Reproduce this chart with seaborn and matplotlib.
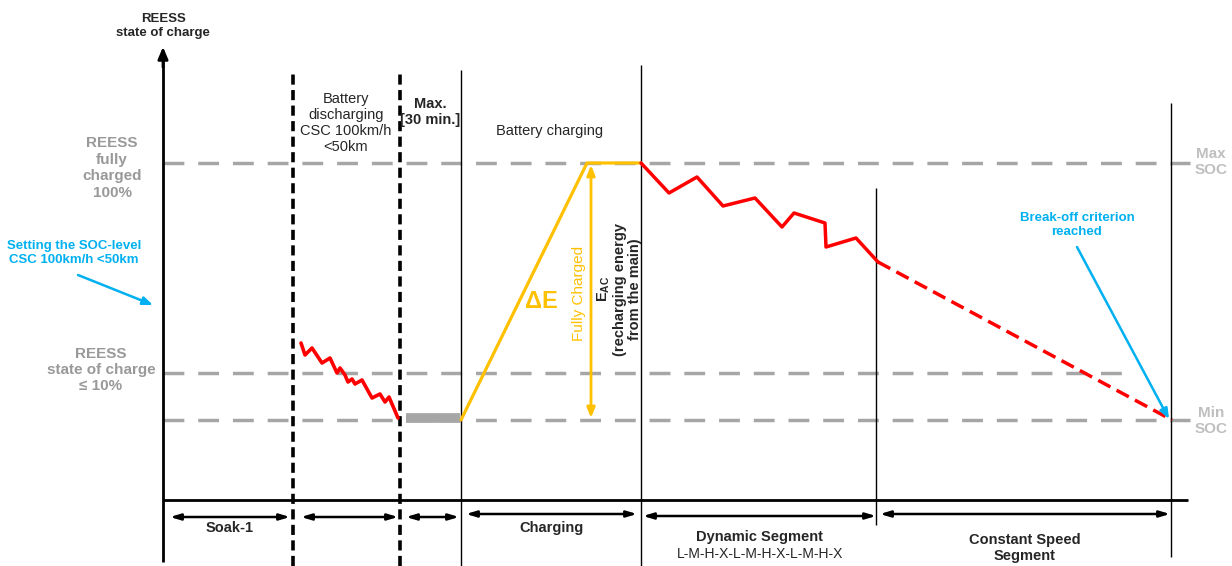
import matplotlib
matplotlib.use("Agg")
import matplotlib.pyplot as plt
import seaborn as sns

# ---------------- data (schematic units: time along x, SOC level along y) ----------------
soc_levels = {"max": 337, "low10": 127, "min": 80}
phase_dashed = [130, 237]                 # soak / discharge boundaries (dashed)
phase_solid = [298, 478, 713, 1008]       # charging start, dynamic start, CSS start, end
phase_solid_top = [430, 435, 312, 397]
phase_solid_bot = [-66, -66, -25, -57]

discharge_t = [138, 142, 149, 159, 167, 174, 177, 182, 185, 189, 192, 199, 209, 217, 222, 226, 235]
discharge_soc = [157, 145, 152, 137, 142, 127, 132, 125, 118, 121, 116, 120, 102, 106, 98, 103, 82]

soak_bar_t = [243, 297]
soak_bar_soc = [82, 82]

charge_t = [298, 424, 478]
charge_soc = [80, 337, 337]

dynamic_t = [478, 506, 534, 560, 592, 619, 631, 662, 663, 693, 715]
dynamic_soc = [337, 307, 323, 294, 302, 273, 287, 277, 253, 262, 238]

css_t = [715, 1009]
css_soc = [238, 80]

segments = [("Soak-1", 7, 127), ("", 138, 235), ("", 243, 296),
            ("Charging", 303, 474), ("Dynamic Segment", 480, 713),
            ("Constant Speed\nSegment", 717, 1007)]
segment_y = [-17, -17, -17, -14, -16, -14]
segment_label_y = [-28, 0, 0, -28, -37, -48]

RED = "#ff0000"
ORANGE = "#ffc000"
BLUE = "#00b0f0"
GRAY = "#a6a6a6"
GRAYTXT = "#999999"
LIGHT = "#bfbfbf"

sns.set_theme(style="white")
plt.rcParams["font.family"] = ["Liberation Sans", "DejaVu Sans"]
plt.rcParams["mathtext.fontset"] = "custom"
plt.rcParams["mathtext.rm"] = "Liberation Sans:bold"
plt.rcParams["mathtext.bf"] = "Liberation Sans:bold"

fig = plt.figure(figsize=(12.32, 5.66), dpi=100)
ax = fig.add_axes([0, 0, 1, 1])
ax.set_xlim(-163, 1069)
ax.set_ylim(-66, 500)
ax.axis("off")

# gray dashed SOC levels
gdash = (0, (6, 4))
ax.hlines(soc_levels["max"], 0, 1027, color=GRAY, lw=2.5, linestyles=gdash)
ax.hlines(soc_levels["low10"], 0, 967, color=GRAY, lw=2.5, linestyles=gdash)
ax.hlines(soc_levels["min"], 0, 1027, color=GRAY, lw=2.5, linestyles=gdash)

# phase boundaries
for x in phase_dashed:
    ax.vlines(x, -66, 430, color="black", lw=2.6, linestyles=(0, (2.8, 1.5)))
for x, t, b in zip(phase_solid, phase_solid_top, phase_solid_bot):
    ax.vlines(x, b, t, color="black", lw=1)

# axes
ax.hlines(0, 0, 1025, color="black", lw=2)
ax.vlines(0, -62, 440, color="black", lw=2)
ax.annotate("", xy=(0, 456), xytext=(0, 430),
            arrowprops=dict(arrowstyle="-|>,head_width=0.25,head_length=0.6", color="black", lw=2))

# curves
sns.lineplot(x=discharge_t, y=discharge_soc, sort=False, color=RED, lw=2.6, ax=ax)
sns.lineplot(x=soak_bar_t, y=soak_bar_soc, sort=False, color=GRAY, lw=7, ax=ax,
             solid_capstyle="butt")
sns.lineplot(x=charge_t, y=charge_soc, sort=False, color=ORANGE, lw=2.3, ax=ax)
sns.lineplot(x=dynamic_t, y=dynamic_soc, sort=False, color=RED, lw=2.5, ax=ax)
ax.plot(css_t, css_soc, color=RED, lw=2.5, ls=(0, (4, 2)))

# orange double arrow
ax.annotate("", xy=(428, 82), xytext=(428, 335),
            arrowprops=dict(arrowstyle="<|-|>,head_width=0.2,head_length=0.5", color=ORANGE, lw=2,
                            shrinkA=0, shrinkB=0))

# blue arrows
ax.annotate("", xy=(-10, 195), xytext=(-85, 225),
            arrowprops=dict(arrowstyle="-|>,head_width=0.2,head_length=0.5", color=BLUE, lw=1.8,
                            shrinkA=0, shrinkB=0))
ax.annotate("", xy=(1006, 81), xytext=(914, 253),
            arrowprops=dict(arrowstyle="-|>,head_width=0.2,head_length=0.5", color=BLUE, lw=1.8,
                            shrinkA=0, shrinkB=0))

# segment arrows
for (lab, a, b), y, ty in zip(segments, segment_y, segment_label_y):
    ax.annotate("", xy=(b, y), xytext=(a, y),
                arrowprops=dict(arrowstyle="<|-|>,head_width=0.15,head_length=0.5", color="black",
                                lw=1.8, shrinkA=0, shrinkB=0))
    if lab:
        ax.text((a + b) / 2, ty, lab, ha="center", va="center", fontsize=10.5,
                fontweight="bold", linespacing=1.2)
ax.text(597, -54, "L-M-H-X-L-M-H-X-L-M-H-X", ha="center", va="center", fontsize=10)

# texts
ax.text(0, 474, "REESS\nstate of charge", ha="center", va="center", fontsize=9.5,
        fontweight="bold", linespacing=1.25)
ax.text(-51, 332, "REESS\nfully\ncharged\n100%", ha="center", va="center", fontsize=11,
        fontweight="bold", color=GRAYTXT, linespacing=1.22)
ax.text(-89, 247, "Setting the SOC-level\nCSC 100km/h <50km", ha="center", va="center",
        fontsize=9.5, fontweight="bold", color=BLUE, linespacing=1.3)
ax.text(-62, 130, "REESS\nstate of charge\n≤ 10%", ha="center", va="center", fontsize=11,
        fontweight="bold", color=GRAYTXT, linespacing=1.2)
ax.text(183, 377, "Battery\ndischarging\nCSC 100km/h\n<50km", ha="center", va="center",
        fontsize=10.5, linespacing=1.2)
ax.text(267, 388, "Max.\n[30 min.]", ha="center", va="center", fontsize=10.5,
        fontweight="bold", linespacing=1.25)
ax.text(387, 369, "Battery charging", ha="center", va="center", fontsize=10.5)
ax.text(378, 198, "ΔE", ha="center", va="center", fontsize=17, fontweight="bold", color=ORANGE)
ax.text(416, 207, "Fully Charged", ha="center", va="center", fontsize=11, rotation=90,
        color=ORANGE)
ax.text(456, 211, "E$_{\\mathrm{AC}}$\n(recharging energy\nfrom the main)", ha="center",
        va="center", fontsize=10.5, rotation=90, fontweight="bold", linespacing=1.1)
ax.text(914, 275, "Break-off criterion\nreached", ha="center", va="center", fontsize=9.5,
        fontweight="bold", color=BLUE, linespacing=1.3)
ax.text(1048, 338, "Max\nSOC", ha="center", va="center", fontsize=11, fontweight="bold",
        color=LIGHT, linespacing=1.25)
ax.text(1048, 79, "Min\nSOC", ha="center", va="center", fontsize=11, fontweight="bold",
        color=LIGHT, linespacing=1.25)

fig.savefig("out.png", dpi=100)
